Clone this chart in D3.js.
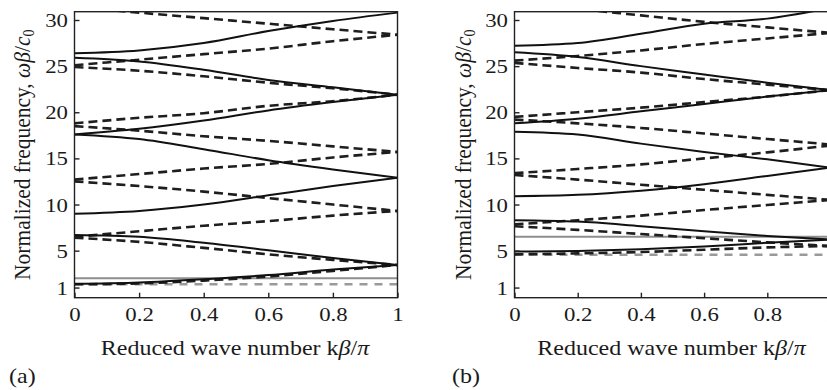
<!DOCTYPE html>
<html>
<head>
<meta charset="utf-8">
<script src="https://cdn.jsdelivr.net/npm/d3@7"></script>
<style>
  html, body { margin: 0; padding: 0; background: #ffffff; }
  svg { display: block; }
  text { font-family: "Liberation Serif", "Times New Roman", serif; fill: #1a1a1a; }
</style>
</head>
<body>
<svg id="chart" width="827" height="390"></svg>
<script>
// ---------------- DATA ----------------
const kValues = [0, 0.2, 0.4, 0.6, 0.8, 1];
const xTickValues = [0, 0.2, 0.4, 0.6, 0.8, 1];
const xTickLabels = ["0", "0.2", "0.4", "0.6", "0.8", "1"];
const yTickValues = [1, 5, 10, 15, 20, 25, 30];
const panelLabels = ["(a)", "(b)"];

// Panel (a): solid black bands
const aSolid = [
  [1.4, 1.55, 1.9, 2.35, 2.95, 3.45],
  [6.7, 6.5, 5.85, 5.05, 4.2, 3.45],
  [9.0, 9.3, 10.0, 11.0, 12.0, 12.9],
  [17.6, 17.1, 16.0, 14.8, 13.8, 12.9],
  [17.6, 18.2, 19.1, 20.2, 21.1, 21.9],
  [25.9, 25.5, 24.6, 23.5, 22.7, 21.9],
  [26.4, 26.7, 27.5, 28.8, 29.9, 30.8]
];
// Panel (a): dashed black bands
const aDashed = [
  [1.35, 1.45, 1.75, 2.2, 2.8, 3.45],
  [6.4, 5.95, 5.3, 4.6, 4.0, 3.45],
  [6.5, 7.1, 7.7, 8.2, 8.8, 9.3],
  [12.5, 12.0, 11.4, 10.7, 10.0, 9.3],
  [12.7, 13.3, 13.9, 14.4, 15.1, 15.7],
  [18.5, 18.0, 17.4, 16.9, 16.3, 15.7],
  [18.8, 19.4, 19.9, 20.7, 21.2, 21.9],
  [24.9, 24.5, 23.9, 23.2, 22.6, 21.9],
  [25.1, 25.7, 26.3, 26.9, 27.7, 28.4],
  [31.4, 30.8, 30.2, 29.6, 29.0, 28.4]
];
// Panel (a): grey reference lines
const aGreySolid = [2.0, 2.0, 2.0, 2.0, 2.0, 2.0];
const aGreyDashed = [1.35, 1.35, 1.35, 1.35, 1.35, 1.35];

// Panel (b): solid black bands
const bSolid = [
  [4.9, 4.97, 5.15, 5.45, 5.85, 6.2],
  [8.3, 8.15, 7.65, 7.1, 6.6, 6.2],
  [10.9, 11.05, 11.5, 12.2, 13.1, 14.0],
  [17.9, 17.6, 16.6, 15.7, 14.9, 14.0],
  [18.8, 19.3, 20.1, 20.9, 21.7, 22.4],
  [26.5, 26.0, 25.0, 24.1, 23.2, 22.4],
  [27.2, 27.5, 28.5, 29.6, 30.15, 31.3]
];
// Panel (b): dashed black bands
const bDashed = [
  [4.6, 4.7, 4.85, 5.1, 5.35, 5.5],
  [7.65, 7.25, 6.8, 6.35, 5.9, 5.5],
  [7.85, 8.3, 8.8, 9.4, 9.95, 10.5],
  [13.2, 12.7, 12.15, 11.6, 11.05, 10.5],
  [13.4, 13.85, 14.35, 15.0, 15.65, 16.4],
  [19.2, 18.8, 18.3, 17.7, 17.1, 16.5],
  [19.5, 20.0, 20.5, 21.1, 21.7, 22.4],
  [25.35, 24.8, 24.3, 23.6, 23.0, 22.4],
  [25.6, 26.1, 26.7, 27.4, 28.0, 28.6],
  [31.8, 31.2, 30.5, 29.8, 29.2, 28.6]
];
// Panel (b): grey reference lines
const bGreySolid = [6.5, 6.5, 6.5, 6.5, 6.5, 6.5];
const bGreyDashed = [4.55, 4.55, 4.55, 4.55, 4.55, 4.55];

// ---------------- DRAW ----------------
const svg = d3.select("#chart");
const plotTop = 11.7, plotBottom = 297.7;
const yDomain = [-0.1, 30.9];
const SX = 1.2; // horizontal text stretch seen in the reference

const panels = [
  { left: 74.5, right: 397.5, solid: aSolid, dashed: aDashed, greyS: aGreySolid, greyD: aGreyDashed,
    label: panelLabels[0], labelX: 9, yTitleX: 30 },
  { left: 514.5, right: 830.5, solid: bSolid, dashed: bDashed, greyS: bGreySolid, greyD: bGreyDashed,
    label: panelLabels[1], labelX: 452, yTitleX: 471 }
];

panels.forEach((p, i) => {
  const x = d3.scaleLinear().domain([0, 1]).range([p.left, p.right]);
  const y = d3.scaleLinear().domain(yDomain).range([plotBottom, plotTop]);
  const g = svg.append("g");

  const clipId = "clip" + i;
  svg.append("clipPath").attr("id", clipId)
    .append("rect").attr("x", p.left).attr("y", plotTop)
    .attr("width", p.right - p.left).attr("height", plotBottom - plotTop);

  const line = d3.line()
    .defined(d => d[1] != null)
    .x(d => x(d[0])).y(d => y(d[1]))
    .curve(d3.curveMonotoneX);
  const pts = arr => kValues.map((k, j) => [k, arr[j]]);

  const lines = g.append("g").attr("clip-path", `url(#${clipId})`);
  // grey lines
  lines.append("path").attr("d", line(pts(p.greyS)))
    .attr("fill", "none").attr("stroke", "#8e8e8e").attr("stroke-width", 2);
  lines.append("path").attr("d", line(pts(p.greyD)))
    .attr("fill", "none").attr("stroke", "#9a9a9a").attr("stroke-width", 2.6)
    .attr("stroke-dasharray", "8,7");
  // dashed black
  p.dashed.forEach(arr => {
    lines.append("path").attr("d", line(pts(arr)))
      .attr("fill", "none").attr("stroke", "#1e1e1e").attr("stroke-width", 2.6)
      .attr("stroke-dasharray", "9,5");
  });
  // solid black
  p.solid.forEach(arr => {
    lines.append("path").attr("d", line(pts(arr)))
      .attr("fill", "none").attr("stroke", "#111").attr("stroke-width", 2);
  });

  // frame
  g.append("rect").attr("x", p.left).attr("y", plotTop)
    .attr("width", p.right - p.left).attr("height", plotBottom - plotTop)
    .attr("fill", "none").attr("stroke", "#222").attr("stroke-width", 1.4);

  // y axis
  const yAxis = d3.axisLeft(y).tickValues(yTickValues).tickSizeInner(-5).tickSizeOuter(0).tickPadding(0);
  const ya = g.append("g").attr("transform", `translate(${p.left},0)`).call(yAxis);
  ya.select(".domain").remove();
  ya.selectAll("line").attr("stroke", "#222").attr("stroke-width", 1.4);
  ya.selectAll("text")
    .attr("x", null).attr("dy", null)
    .attr("text-anchor", "end")
    .attr("transform", `translate(-6.5,6.5) scale(${SX},1)`)
    .attr("font-size", 19)
    .attr("font-family", "Liberation Serif")
    .attr("fill", "#1a1a1a");

  // x axis
  const xAxis = d3.axisBottom(x).tickValues(xTickValues).tickSizeInner(-5).tickSizeOuter(0)
    .tickFormat((d, j) => xTickLabels[j]);
  const xa = g.append("g").attr("transform", `translate(0,${plotBottom})`).call(xAxis);
  xa.select(".domain").remove();
  xa.selectAll("line").attr("stroke", "#222").attr("stroke-width", 1.4);
  xa.selectAll("text")
    .attr("y", null).attr("dy", null)
    .attr("text-anchor", "middle")
    .attr("transform", `translate(0,23.5) scale(${SX},1)`)
    .attr("font-size", 19)
    .attr("font-family", "Liberation Serif")
    .attr("fill", "#1a1a1a");

  // x title
  const xt = g.append("text")
    .attr("text-anchor", "middle")
    .attr("font-size", 20)
    .attr("transform", `translate(${(p.left + p.right) / 2 - 1},355) scale(${SX},1)`);
  xt.append("tspan").text("Reduced wave number k");
  xt.append("tspan").attr("font-style", "italic").text("β");
  xt.append("tspan").text("/");
  xt.append("tspan").attr("font-style", "italic").text("π");

  // y title
  const yt = g.append("text")
    .attr("text-anchor", "middle")
    .attr("font-size", 21.5)
    .attr("transform", `translate(${p.yTitleX},${(plotTop + plotBottom) / 2}) scale(1.12,1) rotate(-90)`);
  yt.append("tspan").text("Normalized frequency, ");
  yt.append("tspan").attr("font-style", "italic").text("ωβ");
  yt.append("tspan").text("/");
  yt.append("tspan").attr("font-style", "italic").text("c");
  yt.append("tspan").attr("font-size", 14).attr("dy", 4).text("0");

  // panel label
  svg.append("text")
    .attr("font-size", 20)
    .attr("transform", `translate(${p.labelX},383) scale(${SX},1)`)
    .text(p.label);
});
</script>
</body>
</html>
